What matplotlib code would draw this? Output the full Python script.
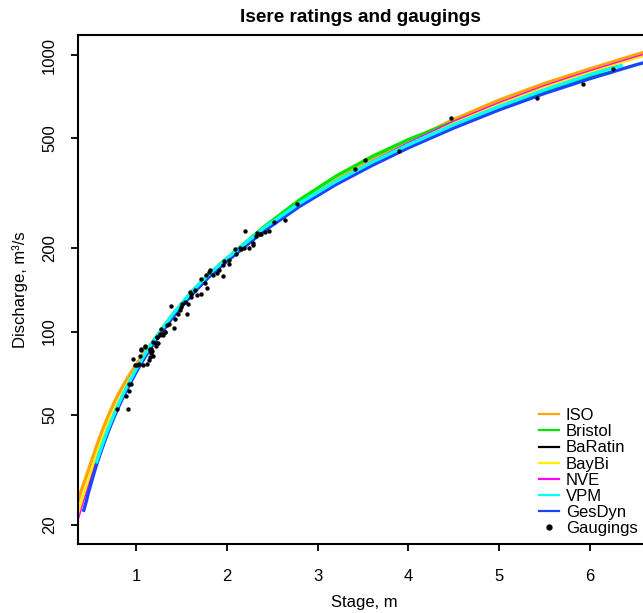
import matplotlib
matplotlib.use("Agg")
import matplotlib.pyplot as plt
from matplotlib.lines import Line2D

plt.rcParams['font.family'] = ['Liberation Sans', 'DejaVu Sans']

# ---------------- data ----------------
iso_stage = [0.36, 0.38, 0.40, 0.45, 0.475, 0.50, 0.53, 0.56, 0.595, 0.63, 0.665, 0.70, 0.75, 0.80,
             0.85, 0.90, 1.0, 1.1, 1.2, 1.4, 1.6, 1.8, 2.0, 2.4, 2.8, 3.2, 3.6, 4.0, 4.5, 5.0, 5.5,
             6.0, 6.5, 6.8]
iso_q = [24.2, 25.5, 26.8, 29.8, 31.5, 33.3, 35.6, 38.1, 41.0, 44.0, 47.0, 50.1, 54.5, 58.9,
         63.1, 67.4, 75.9, 84.7, 93.4, 113.3, 135, 158.2, 180.3, 232.2, 289.2, 352.4, 417.8, 488,
         585, 688, 790, 892, 1002, 1070]

bristol_stage = [0.6, 0.8, 1.0, 1.2, 1.4, 1.6, 1.8, 2.0, 2.4, 2.8, 3.2, 3.6, 4.0, 4.5, 5.0, 5.5, 6.0, 6.25]
bristol_q = [36.6, 54.0, 73, 93.4, 115, 137.7, 161.4, 184, 238, 299.4, 364.6, 430, 495, 574, 655,
             741.5, 835, 868]

baratin_stage = [0.6, 0.8, 1.0, 1.2, 1.4, 1.6, 1.8, 2.0, 2.4, 2.8, 3.2, 3.6, 4.0, 4.5, 5.0, 5.5, 6.0, 6.3]
baratin_q = [36.6, 54.0, 73, 93.4, 115, 137.7, 161.4, 184, 235.7, 290.7, 348.9, 409.6, 474, 560, 652,
             749, 850, 912]

baybi_stage = [0.36, 0.38, 0.40, 0.45, 0.475, 0.50, 0.53, 0.56, 0.595, 0.63, 0.665, 0.70, 0.75, 0.80,
               0.85, 0.90, 1.0, 1.1, 1.2, 1.4, 1.6, 1.8, 2.0, 2.4, 2.8, 3.2, 3.6, 4.0, 4.5, 5.0, 5.5,
               6.0, 6.5, 6.8]
baybi_q = [21.8, 23.0, 24.2, 27.1, 28.7, 30.5, 32.6, 35.1, 37.8, 40.7, 43.6, 46.6, 50.8, 55.1,
           59.4, 64.0, 73.2, 83.1, 93.4, 115, 137.5, 161, 183.5, 235, 290, 349, 412, 479, 568, 665,
           768, 871, 978, 1045]

nve_stage = [0.36, 0.38, 0.40, 0.45, 0.475, 0.50, 0.53, 0.56, 0.595, 0.63, 0.665, 0.70, 0.75, 0.80,
             0.85, 0.90, 1.0, 1.1, 1.2, 1.4, 1.6, 1.8, 2.0, 2.4, 2.8, 3.2, 3.6, 4.0, 4.5, 5.0, 5.5,
             6.0, 6.5, 6.8]
nve_q = [20.7, 21.8, 23.0, 26.0, 27.6, 29.3, 31.5, 33.8, 36.6, 39.5, 42.4, 45.3, 49.7, 54.2,
         58.8, 63.4, 73.1, 83.1, 93.5, 115, 137.7, 161.4, 184, 236, 291, 351, 414, 483, 577, 674,
         777, 879, 987, 1054]

vpm_stage = [0.56, 0.595, 0.63, 0.665, 0.70, 0.75, 0.80, 0.85, 0.90, 1.0, 1.1, 1.2, 1.4, 1.6, 1.8,
             2.0, 2.4, 2.8, 3.2, 3.6, 4.0, 4.5, 5.0, 5.5, 6.0, 6.36]
vpm_q = [33.4, 36.2, 39.1, 42.1, 45.1, 49.5, 54.0, 58.6, 63.3, 73, 83.0, 93.4, 115, 138, 161,
         184, 236, 291, 349, 410, 474, 560, 652, 749, 850, 920]

gesdyn_stage = [0.42, 0.45, 0.475, 0.50, 0.53, 0.56, 0.595, 0.63, 0.665, 0.70, 0.75, 0.80, 0.85,
                0.90, 1.0, 1.1, 1.2, 1.4, 1.6, 1.8, 2.0, 2.4, 2.8, 3.2, 3.6, 4.0, 4.5, 5.0, 5.5,
                6.0, 6.5, 6.8]
gesdyn_q = [22.3, 24.2, 26.1, 27.9, 30.2, 32.6, 35.3, 38.1, 41.0, 44.0, 48.3, 52.7, 57.2,
            61.7, 71.2, 81.0, 91.1, 112.1, 134.3, 157.4, 179.4, 229.8, 283.4, 340, 399, 462, 545,
            634, 727, 822, 921, 980]

gauge_stage = [0.79, 0.91, 0.89, 0.92, 0.92, 0.94, 0.97, 0.99, 1.01, 1.03, 1.04, 1.06, 1.10, 1.08,
               1.12, 1.14, 1.15, 1.17, 1.18, 1.19, 1.15, 1.17, 1.22, 1.24, 1.23, 1.26, 1.28, 1.30,
               1.32,
               1.06, 1.10, 1.15, 1.19, 1.23, 1.22, 1.26, 1.28, 1.32, 1.34, 1.36, 1.39, 1.42, 1.43,
               1.46, 1.48, 1.49, 1.51, 1.54, 1.57, 1.56, 1.60, 1.61, 1.59, 1.65, 1.67, 1.71, 1.72,
               1.77, 1.76, 1.78, 1.80, 1.82, 1.85, 1.89, 1.91, 1.96, 1.96, 1.97, 2.02, 2.02, 2.09,
               2.10, 2.14, 2.16, 2.19, 2.20, 2.24, 2.29, 2.29, 2.32, 2.33, 2.36, 2.38, 2.42, 2.46,
               2.52, 2.64, 2.77,
               3.41, 3.52, 3.90, 4.47, 5.42, 5.92, 6.25]
gauge_q = [52.3, 52.3, 58.3, 60.8, 64.4, 64.4, 79.3, 75.5, 75.5, 76.6, 81.5, 86.1, 88.5, 75.5,
           76.6, 78.8, 81, 83.7, 85.1, 81.5, 85.5, 86.8, 88.5, 90.6, 95.5, 97, 97.8, 97,
           99.8,
           86.4, 88.2, 86.4, 91.7, 95.5, 90.6, 98.4, 102.5, 99.8, 105.5, 106.9, 124, 103, 111.4,
           116, 119.4, 122.7, 125.6, 128, 126.3, 116, 133.4, 137, 139, 141, 135.3, 137, 155.5,
           160, 149.3, 144.3, 164.5, 167.6, 160, 162.3, 166.8, 158.9, 173.8, 179.6, 176.2, 181.2, 199.6,
           190.9, 201.3, 199, 200.9, 231.4, 200.9, 208.3, 205.3, 222.4, 227.4, 224.9, 226.3, 229.5, 231.4,
           250, 254, 288.4,
           387, 417, 449, 590, 701, 785, 888]

legend_labels = ["ISO", "Bristol", "BaRatin", "BayBi", "NVE", "VPM", "GesDyn", "Gaugings"]
x_ticks = [1, 2, 3, 4, 5, 6]
y_ticks = [20, 50, 100, 200, 500, 1000]

# ---------------- figure ----------------
W, H = 643, 613
fig = plt.figure(figsize=(W / 100, H / 100), dpi=100)
left, right, top, bottom = 78, 657, 35, 544
ax = fig.add_axes([left / W, 1 - bottom / H, (right - left) / W, (bottom - top) / H])

lw = 2.4
c_iso, c_bri, c_bar, c_bay, c_nve, c_vpm, c_ges = ("#FFA500", "#00E600", "#000000", "#FFF000",
                                                   "#FF00FF", "#00FFFF", "#1A45FF")
ax.plot(iso_stage, iso_q, color=c_iso, lw=lw, zorder=2.0, solid_capstyle='butt')
ax.plot(bristol_stage, bristol_q, color=c_bri, lw=lw, zorder=2.1, solid_capstyle='butt')
ax.plot(baratin_stage, baratin_q, color=c_bar, lw=lw * 0.8, zorder=2.2, solid_capstyle='butt')
ax.plot(baybi_stage, baybi_q, color=c_bay, lw=lw, zorder=2.3, solid_capstyle='butt')
ax.plot(nve_stage, nve_q, color=c_nve, lw=1.0, zorder=2.4, solid_capstyle='butt')
ax.plot(gesdyn_stage, gesdyn_q, color=c_ges, lw=lw, zorder=2.5, solid_capstyle='butt')
ax.plot(vpm_stage, vpm_q, color=c_vpm, lw=lw, zorder=2.6, solid_capstyle='butt')
ax.scatter(gauge_stage, gauge_q, s=10, color='black', zorder=5, linewidths=0)

ax.set_yscale('log')
ax.set_xlim(0.361, 6.737)
ax.set_ylim(17.06, 1182)
ax.set_xticks(x_ticks)
ax.set_xticklabels([str(t) for t in x_ticks])
ax.set_yticks(y_ticks)
ax.set_yticklabels([str(t) for t in y_ticks], rotation=90, va='center')
ax.minorticks_off()
ax.tick_params(axis='x', length=5, width=1.3, pad=13, labelsize=12)
ax.tick_params(axis='y', length=5, width=1.3, pad=10, labelsize=12)
for s in ax.spines.values():
    s.set_linewidth(1.5)

fig.text(360 / W, 1 - 18 / H, "Isere ratings and gaugings", ha='center', va='center',
         fontsize=13.7, fontweight='bold')
fig.text(364 / W, 1 - 603 / H, "Stage, m", ha='center', va='center', fontsize=12)
fig.text(20 / W, 1 - 290 / H, "Discharge, m³/s", ha='center', va='center', fontsize=12,
         rotation=90)

handles = [Line2D([], [], color=c, lw=1.6) for c in (c_iso, c_bri, c_bar, c_bay, c_nve, c_vpm, c_ges)]
handles.append(Line2D([], [], color='black', marker='o', markersize=3.5, lw=0))
fig.legend(handles, legend_labels, loc='upper left', bbox_to_anchor=(539 / W, 1 - 408 / H),
           frameon=False, fontsize=12, handlelength=1.2, handletextpad=0.4,
           labelspacing=0.07, borderpad=0, borderaxespad=0)

fig.savefig("out.png", dpi=100)
